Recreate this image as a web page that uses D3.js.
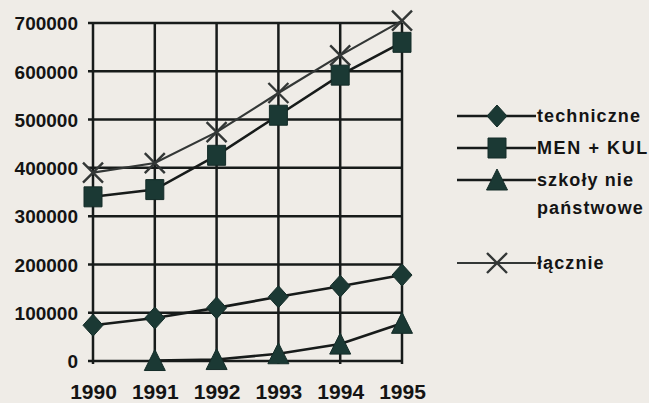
<!DOCTYPE html>
<html><head><meta charset="utf-8">
<script src="https://cdn.jsdelivr.net/npm/d3@7"></script>
<style>
html,body{margin:0;padding:0;background:#efece7;}
svg{display:block;}
text{font-family:"Liberation Sans",Arial,sans-serif;font-weight:bold;fill:#141414;}
</style></head>
<body>
<svg id="c" width="649" height="403"></svg>
<script>
const years = [1990, 1991, 1992, 1993, 1994, 1995];
const yTicks = [0, 100000, 200000, 300000, 400000, 500000, 600000, 700000];
const techniczne = [74000, 89000, 110000, 133000, 155000, 178000];
const menKul = [340000, 355000, 426000, 509000, 592000, 660000];
const szkolyNie = [null, 1000, 3000, 15000, 35000, 78000];
const lacznie = [390000, 410000, 474000, 555000, 633000, 705000];
const legendLabels = [["techniczne"], ["MEN + KUL"], ["szkoły nie", "państwowe"], ["łącznie"]];

const svg = d3.select("#c");
const x = d3.scaleLinear().domain([1990, 1995]).range([93, 402]);
const y = d3.scaleLinear().domain([0, 700000]).range([361, 23]);

const ink = "#171b1a";
const teal = "#1b3934";

// grid
const g = svg.append("g");
g.selectAll("line.h").data(yTicks).join("line")
  .attr("x1", 88).attr("x2", x(1995)).attr("y1", d => y(d)).attr("y2", d => y(d))
  .attr("stroke", ink).attr("stroke-width", 2.5);
g.selectAll("line.v").data(years).join("line")
  .attr("x1", d => x(d)).attr("x2", d => x(d)).attr("y1", y(700000)).attr("y2", y(0) + 3)
  .attr("stroke", ink).attr("stroke-width", 2.5);

// axes labels
const yAxis = svg.append("g").attr("transform", "translate(78,0)")
  .call(d3.axisLeft(y).tickValues(yTicks).tickSize(0).tickPadding(0).tickFormat(d3.format("d")));
yAxis.select(".domain").remove();
yAxis.selectAll("text").style("font-size", "19px").attr("dy", "0.36em").style("font-family", '"Liberation Sans",Arial,sans-serif').style("font-weight", "bold").attr("fill", "#141414");

const xAxis = svg.append("g").attr("transform", "translate(0,383)")
  .call(d3.axisBottom(x).tickValues(years).tickSize(0).tickPadding(0).tickFormat(d3.format("d")));
xAxis.select(".domain").remove();
xAxis.selectAll("text").style("font-size", "21px").attr("dy", "0.75em").style("font-family", '"Liberation Sans",Arial,sans-serif').style("font-weight", "bold").attr("fill", "#141414");

// marker shapes
function diamond(s){ s.append("path").attr("d","M0,-11L10,0L0,11L-10,0Z").attr("fill",teal).attr("stroke","#142c28").attr("stroke-width",1); }
function square(s){ s.append("path").attr("d","M-9,-10H9V10H-9Z").attr("fill",teal).attr("stroke","#142c28").attr("stroke-width",1); }
function triangle(s){ s.append("path").attr("d","M0,-11L10.5,10H-10.5Z").attr("fill",teal).attr("stroke","#142c28").attr("stroke-width",1); }
function cross(s){ s.append("path").attr("d","M-10,-10L10,10M10,-10L-10,10").attr("fill","none").attr("stroke","#333736").attr("stroke-width",2.4); }

const series = [
  {vals: techniczne, mark: diamond, color: ink, w: 2.6},
  {vals: menKul, mark: square, color: ink, w: 2.6},
  {vals: szkolyNie, mark: triangle, color: ink, w: 2.6},
  {vals: lacznie, mark: cross, color: "#333736", w: 2.2}
];

const line = d3.line().defined(d => d.v != null).x(d => x(d.yr)).y(d => y(d.v));
series.forEach(s => {
  const pts = years.map((yr, i) => ({yr, v: s.vals[i]}));
  svg.append("path").datum(pts).attr("d", line).attr("fill", "none")
    .attr("stroke", s.color).attr("stroke-width", s.w);
});
series.forEach(s => {
  const pts = years.map((yr, i) => ({yr, v: s.vals[i]})).filter(d => d.v != null);
  svg.append("g").selectAll("g").data(pts).join("g")
    .attr("transform", d => `translate(${x(d.yr)},${y(d.v)})`)
    .each(function(){ s.mark(d3.select(this)); });
});

// legend
const legY = [116, 148, 180, 263];
const leg = svg.append("g");
series.forEach((s, i) => {
  const gy = legY[i];
  leg.append("line").attr("x1", 457).attr("x2", 536).attr("y1", gy).attr("y2", gy)
    .attr("stroke", s.color).attr("stroke-width", s.w);
  const m = leg.append("g").attr("transform", `translate(497,${gy})`);
  s.mark(m);
  legendLabels[i].forEach((t, j) => {
    leg.append("text").attr("x", 537).attr("y", gy + j * 28).attr("dy", "0.36em")
      .style("font-size", "18px").style("letter-spacing", i === 1 ? "1.6px" : "1.1px").text(t);
  });
});
</script>
</body></html>
